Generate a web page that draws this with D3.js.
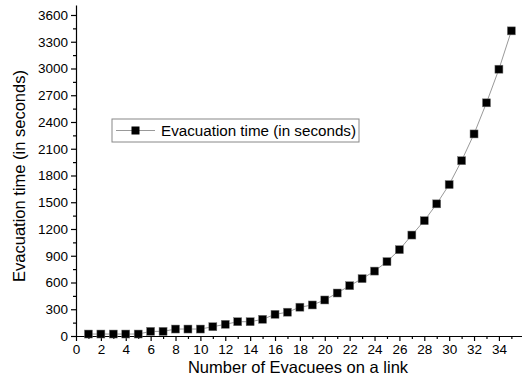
<!DOCTYPE html>
<html>
<head>
<meta charset="utf-8">
<script src="https://cdn.jsdelivr.net/npm/d3@7"></script>
<style>
  body { margin: 0; background: #fff; }
  text { font-family: "Liberation Sans", Arial, sans-serif; fill: #000; }
</style>
</head>
<body>
<svg width="522" height="378"></svg>
<script>
// data
var evacuees = [1,2,3,4,5,6,7,8,9,10,11,12,13,14,15,16,17,18,19,20,21,22,23,24,25,26,27,28,29,30,31,32,33,34,35];
var evacTime = [22,22,22,22,22,52,52,78,78,78,104,131,160,160,187,243,267,323,348,404,482,564,643,728,834,968,1132,1293,1482,1698,1966,2266,2615,2992,3422];
var xTicks = d3.range(0, 36, 2);
var yTicks = d3.range(0, 3601, 300);
var seriesName = "Evacuation time (in seconds)";

var svg = d3.select("svg");

var x = d3.scaleLinear().domain([0, 36]).range([76, 523.8]);
var y = d3.scaleLinear().domain([0, 3712]).range([336, 5]);

// minor ticks
var xMinor = d3.axisBottom(x).tickValues(d3.range(1, 36, 2)).tickSize(3).tickFormat("");
var yMinor = d3.axisLeft(y).tickValues(d3.range(150, 3700, 300)).tickSize(3).tickFormat("");

svg.append("g").attr("transform", "translate(0,336)").call(xMinor)
  .call(function(g) { g.select(".domain").remove(); });
svg.append("g").attr("transform", "translate(76,0)").call(yMinor)
  .call(function(g) { g.select(".domain").remove(); });

var xAxis = svg.append("g")
  .attr("transform", "translate(0,336)")
  .call(d3.axisBottom(x).tickValues(xTicks).tickSize(5).tickSizeOuter(0).tickPadding(3).tickFormat(d3.format("d")));
xAxis.selectAll("text").attr("font-size", 13.5).attr("font-family", "Liberation Sans, Arial, sans-serif");

var yAxis = svg.append("g")
  .attr("transform", "translate(76,0)")
  .call(d3.axisLeft(y).tickValues(yTicks).tickSize(5).tickSizeOuter(0).tickPadding(3).tickFormat(d3.format("d")));
yAxis.selectAll("text").attr("font-size", 13.5).attr("font-family", "Liberation Sans, Arial, sans-serif");

svg.selectAll(".domain, .tick line").attr("stroke", "#000").attr("stroke-width", 1.2);

// axis titles
svg.append("text")
  .attr("x", 298).attr("y", 373)
  .attr("text-anchor", "middle")
  .attr("font-size", 16.5)
  .text("Number of Evacuees on a link");

svg.append("text")
  .attr("transform", "translate(25,176) rotate(-90)")
  .attr("text-anchor", "middle")
  .attr("font-size", 16.5)
  .text("Evacuation time (in seconds)");

// series
var pts = evacuees.map(function(d, i) { return [d, evacTime[i]]; });

var line = d3.line()
  .x(function(d) { return x(d[0]); })
  .y(function(d) { return y(d[1]); });

svg.append("path")
  .datum(pts)
  .attr("d", line)
  .attr("fill", "none")
  .attr("stroke", "#999")
  .attr("stroke-width", 1);

var sz = 8;
svg.selectAll("rect.pt")
  .data(pts)
  .enter()
  .append("rect")
  .attr("class", "pt")
  .attr("x", function(d) { return x(d[0]) - sz / 2; })
  .attr("y", function(d) { return y(d[1]) - sz / 2; })
  .attr("width", sz)
  .attr("height", sz)
  .attr("fill", "#000")
  .attr("stroke", "#777")
  .attr("stroke-width", 0.5);

// legend
var lg = svg.append("g");
lg.append("rect")
  .attr("x", 112).attr("y", 119)
  .attr("width", 247).attr("height", 23)
  .attr("fill", "#fff")
  .attr("stroke", "#888")
  .attr("stroke-width", 1);
lg.append("line")
  .attr("x1", 116).attr("x2", 155)
  .attr("y1", 130.5).attr("y2", 130.5)
  .attr("stroke", "#999");
lg.append("rect")
  .attr("x", 131.5).attr("y", 126.5)
  .attr("width", sz).attr("height", sz)
  .attr("fill", "#000");
lg.append("text")
  .attr("x", 161).attr("y", 136)
  .attr("font-size", 15.2)
  .text(seriesName);
</script>
</body>
</html>
